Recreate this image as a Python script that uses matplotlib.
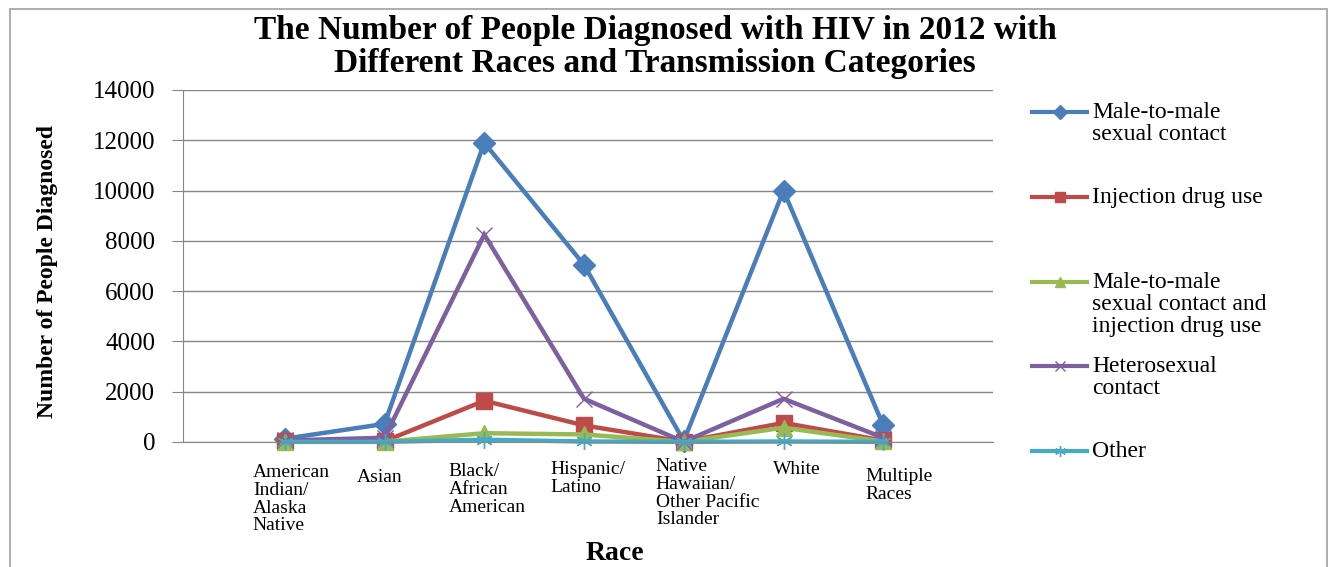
import matplotlib

matplotlib.use("Agg")

import matplotlib.pyplot as plt
from matplotlib.lines import Line2D
from matplotlib.patches import Rectangle
from matplotlib.transforms import blended_transform_factory


races = [
    "American\nIndian/\nAlaska\nNative",
    "Asian",
    "Black/\nAfrican\nAmerican",
    "Hispanic/\nLatino",
    "Native\nHawaiian/\nOther Pacific\nIslander",
    "White",
    "Multiple\nRaces",
]

male_to_male = [130, 720, 11900, 7050, 40, 10000, 660]
injection_drug_use = [30, 30, 1640, 660, 10, 760, 60]
male_to_male_and_idu = [10, 10, 350, 300, 5, 570, 20]
heterosexual = [60, 170, 8250, 1720, 10, 1720, 170]
other = [5, 5, 90, 20, 5, 20, 5]

series_labels = [
    "Male-to-male\nsexual contact",
    "Injection drug use",
    "Male-to-male\nsexual contact and\ninjection drug use",
    "Heterosexual\ncontact",
    "Other",
]
series_values = [male_to_male, injection_drug_use, male_to_male_and_idu, heterosexual, other]
y_ticks = [0, 2000, 4000, 6000, 8000, 10000, 12000, 14000]

colors = ["#4A7EBB", "#BE4B48", "#98B954", "#7D60A0", "#46AAC5"]
markers = ["D", "s", "^", "x", (6, 2, 0)]
marker_sizes = [11, 12, 11, 12, 12]
marker_edge_widths = [1, 1, 1, 1.0, 1.0]

# category label offsets (data units in x, pixels from top of figure in y)
label_dx = [-0.32, -0.28, -0.36, -0.34, -0.28, -0.11, -0.18]
label_top = [464, 469, 463, 461, 458, 461, 468]

W, H = 1334, 567
SERIF = "Liberation Serif"
plt.rcParams["font.family"] = [SERIF, "DejaVu Serif"]

fig = plt.figure(figsize=(W / 100, H / 100), dpi=100)
ax = fig.add_axes([183 / W, 1 - 442 / H, (993 - 183) / W, (442 - 90) / H])

x = list(range(len(races)))
for values, color, marker, ms, mew in zip(series_values, colors, markers, marker_sizes, marker_edge_widths):
    ax.plot(x, values, color=color, lw=3.2, marker=marker, markersize=ms,
            markeredgewidth=mew, markerfacecolor=color, markeredgecolor=color,
            solid_joinstyle="miter", clip_on=False)

ax.set_xlim(-1.02, 7.10)
ax.set_ylim(0, 14000)
ax.set_yticks(y_ticks)
ax.set_yticklabels([str(v) for v in y_ticks], fontsize=18)
ax.set_xticks([])
ax.grid(axis="y", color="#868686", lw=1)
ax.set_axisbelow(True)
for side in ["top", "right"]:
    ax.spines[side].set_visible(False)
for side in ["left", "bottom"]:
    ax.spines[side].set_color("#868686")
ax.tick_params(axis="y", length=8, color="#868686", pad=12)

# wrapped category labels under the axis
trans = blended_transform_factory(ax.transData, fig.transFigure)
for i, (name, dx, top) in enumerate(zip(races, label_dx, label_top)):
    ax.text(i + dx, 1 - top / H, name, transform=trans, ha="left", va="top",
            fontsize=14, linespacing=1.06, clip_on=False)

fig.text(655 / W, 1 - 47 / H,
         "The Number of People Diagnosed with HIV in 2012 with\nDifferent Races and Transmission Categories",
         ha="center", va="center", fontsize=24, fontweight="bold", linespacing=1.1)
fig.text(48 / W, 1 - 272 / H, "Number of People Diagnosed", rotation=90,
         ha="center", va="center", fontsize=17, fontweight="bold")
fig.text(615 / W, 1 - 553 / H, "Race", ha="center", va="center",
         fontsize=20, fontweight="bold")

# legend drawn at the right of the plot
legend_y = [112, 197, 282, 366, 451]
for label, color, marker, ms, mew, ly in zip(series_labels, colors, markers, marker_sizes, marker_edge_widths, legend_y):
    yf = 1 - ly / H
    fig.add_artist(Line2D([1032 / W, 1087 / W], [yf, yf], color=color, lw=3,
                          transform=fig.transFigure))
    fig.add_artist(Line2D([1060 / W], [yf], color=color, lw=0, marker=marker,
                          markersize=ms * 0.65, markeredgewidth=mew,
                          transform=fig.transFigure))
    fig.text(1092 / W, yf + 10 / H, label, ha="left", va="top", fontsize=17,
             linespacing=1.06)

# chart border
fig.add_artist(Rectangle((10 / W, -0.01), (1327 - 10) / W, 1.01 - 9 / H,
                         transform=fig.transFigure, fill=False,
                         edgecolor="#A0A0A0", lw=1.2))

fig.savefig("out.png", dpi=100)
